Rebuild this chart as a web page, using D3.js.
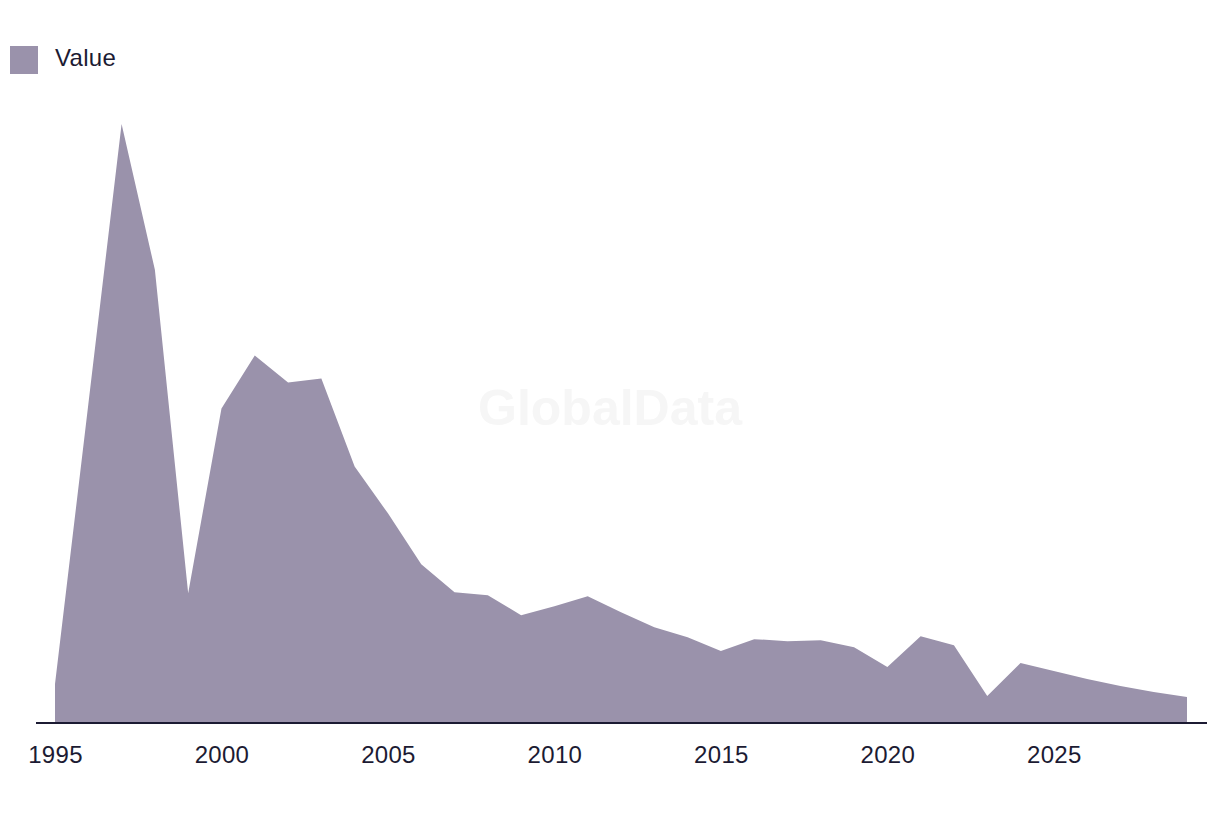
<!DOCTYPE html>
<html>
<head>
<meta charset="utf-8">
<script src="https://cdn.jsdelivr.net/npm/d3@7"></script>
<style>
  html, body { margin: 0; padding: 0; background: #ffffff; }
  svg { display: block; }
  text { font-family: "Liberation Sans", Arial, sans-serif; }
</style>
</head>
<body>
<svg id="chart" width="1220" height="814"></svg>
<script>
const years = [1995,1996,1997,1998,1999,2000,2001,2002,2003,2004,2005,2006,2007,2008,2009,2010,2011,2012,2013,2014,2015,2016,2017,2018,2019,2020,2021,2022,2023,2024,2025,2026,2027,2028,2029];
const values = [3.9,31.9,60.0,45.4,13.0,31.5,36.8,34.1,34.5,25.7,21.0,15.9,13.1,12.8,10.8,11.7,12.7,11.1,9.6,8.6,7.2,8.4,8.2,8.3,7.6,5.6,8.7,7.8,2.7,6.0,5.2,4.4,3.7,3.1,2.6];
const tickYears = [1995,2000,2005,2010,2015,2020,2025];
const seriesName = "Value";

const data = years.map((y, i) => ({ year: y, value: values[i] }));

const svg = d3.select("#chart");
const areaColor = "#9a92ab";
const textColor = "#1c1b33";

const x = d3.scaleLinear().domain([1995, 2029]).range([55, 1187]);
const y = d3.scaleLinear().domain([0, 60]).range([723, 124]);

// watermark
svg.append("text")
  .attr("x", 610).attr("y", 425)
  .attr("text-anchor", "middle")
  .attr("font-size", 50).attr("font-weight", "bold")
  .attr("fill", "#f6f6f6")
  .text("GlobalData");

// area
const area = d3.area()
  .x(d => x(d.year))
  .y0(y(0))
  .y1(d => y(d.value));

svg.append("path")
  .datum(data)
  .attr("d", area)
  .attr("fill", areaColor);

// x axis
const axis = d3.axisBottom(x)
  .tickValues(tickYears)
  .tickFormat(d3.format("d"))
  .tickSize(0)
  .tickPadding(23);

const gx = svg.append("g")
  .attr("transform", `translate(0,${y(0)})`)
  .call(axis);
gx.select(".domain").remove();
gx.selectAll("text")
  .attr("font-size", 24)
  .attr("letter-spacing", 0.3)
  .attr("fill", textColor)
  .attr("font-family", "\"Liberation Sans\", Arial, sans-serif");

svg.append("line")
  .attr("x1", 36).attr("x2", 1207)
  .attr("y1", y(0)).attr("y2", y(0))
  .attr("stroke", textColor)
  .attr("stroke-width", 2);

// legend
svg.append("rect")
  .attr("x", 10).attr("y", 46)
  .attr("width", 28).attr("height", 28)
  .attr("fill", areaColor);
svg.append("text")
  .attr("x", 55).attr("y", 66)
  .attr("font-size", 24)
  .attr("letter-spacing", 0.3)
  .attr("fill", textColor)
  .text(seriesName);
</script>
</body>
</html>
